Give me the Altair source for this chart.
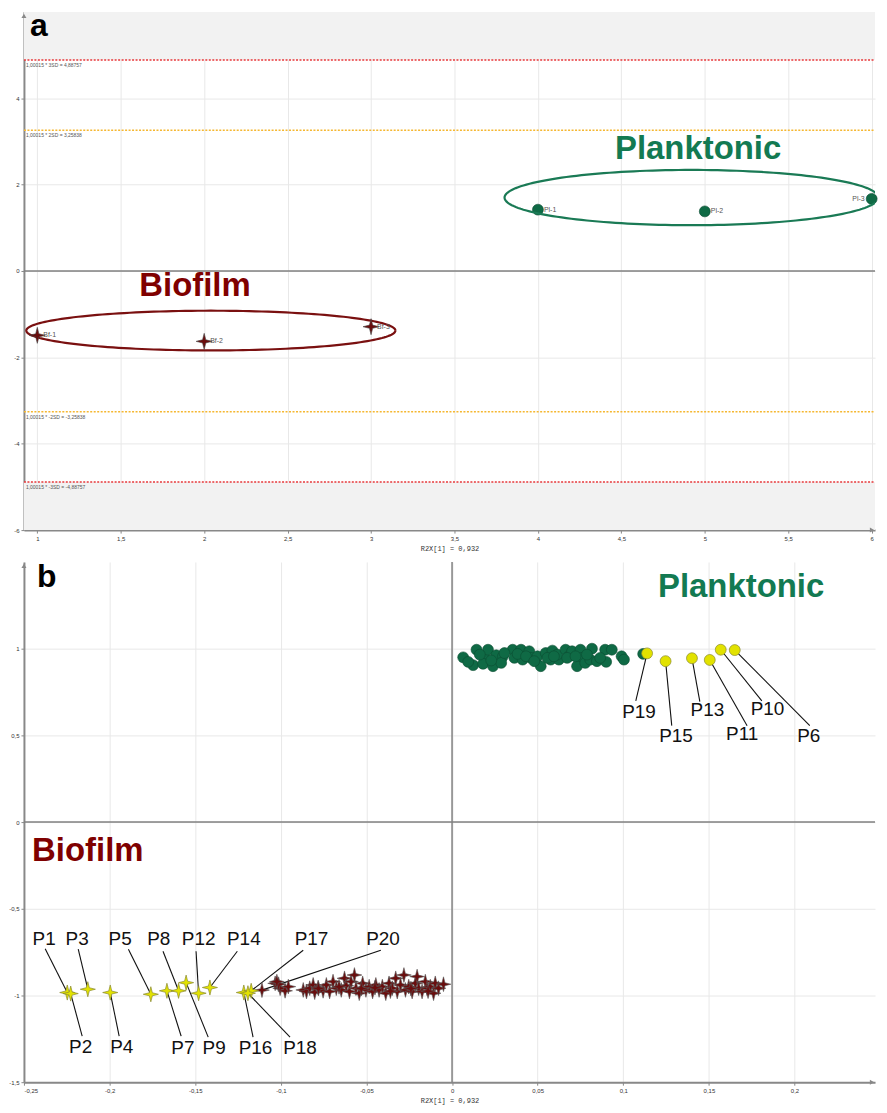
import altair as alt
import numpy as np
import pandas as pd

# ---------------- Panel a ----------------
a_names = ["Pl-1", "Pl-2", "Pl-3", "Bf-1", "Bf-2", "Bf-3"]
a_x = [4, 5, 6, 1, 2, 3]
a_y = [1.42, 1.38, 1.67, -1.49, -1.63, -1.29]
a_group = ["Planktonic", "Planktonic", "Planktonic", "Biofilm", "Biofilm", "Biofilm"]

sd_values = [4.88757, 3.25838, -3.25838, -4.88757]
sd_labels = ["1,00015 * 3SD = 4,88757", "1,00015 * 2SD = 3,25838",
             "1,00015 * -2SD = -3,25838", "1,00015 * -3SD = -4,88757"]
sd_colors = ["#e8393b", "#f5b731", "#f5b731", "#e8393b"]
shade_lo = [4.88757, -6]
shade_hi = [6, -4.88757]

a_x_ticks = [1, 1.5, 2, 2.5, 3, 3.5, 4, 4.5, 5, 5.5, 6]
a_y_ticks = [-6, -4, -2, 0, 2, 4]

ell_a_group = ["Planktonic", "Biofilm"]
ell_a_color = ["#1a7a55", "#7a1010"]
ell_a_cx = [4.92, 2.04]
ell_a_cy = [1.70, -1.38]
ell_a_rx = [1.12, 1.106]
ell_a_ry = [0.64, 0.46]

grp_text = ["Planktonic", "Biofilm"]
grp_color = ["#137a52", "#7f0000"]
grp_a_x = [4.96, 1.945]
grp_a_y = [2.83, -0.35]

# ---------------- Panel b ----------------
b_pl_x = [0.0065, 0.0123, 0.0143, 0.0191, 0.0210, 0.0181, 0.0239, 0.0258, 0.0297, 0.0287,
          0.0354, 0.0364, 0.0403, 0.0412, 0.0451, 0.0460, 0.0499, 0.0518, 0.0547, 0.0586,
          0.0576, 0.0624, 0.0615, 0.0663, 0.0682, 0.0701, 0.0750, 0.0759, 0.0730, 0.0778,
          0.0817, 0.0807, 0.0846, 0.0894, 0.0900, 0.0933, 0.0990, 0.1004, 0.0094, 0.0162,
          0.0229, 0.0306, 0.0383, 0.0432, 0.0480, 0.0557, 0.0595, 0.0672, 0.0721, 0.0788,
          0.0865, 0.1116]
b_pl_y = [0.950, 0.905, 0.994, 0.947, 0.994, 0.913, 0.899, 0.962, 0.956, 0.918,
          0.994, 0.947, 0.994, 0.937, 0.985, 0.947, 0.956, 0.899, 0.975, 0.989,
          0.937, 0.937, 0.966, 0.994, 0.956, 0.985, 0.994, 0.947, 0.899, 0.918,
          1.000, 0.937, 0.928, 0.994, 0.924, 0.994, 0.956, 0.937, 0.924, 0.966,
          0.932, 0.975, 0.970, 0.956, 0.928, 0.947, 0.956, 0.947, 0.956, 0.966,
          0.947, 0.970]

b_bf_x = [-0.1033, -0.1004, -0.1013, -0.0975, -0.0956, -0.1023, -0.0869, -0.0850, -0.0831, -0.0811,
          -0.0802, -0.0782, -0.0753, -0.0734, -0.0715, -0.0695, -0.0676, -0.0647, -0.0628, -0.0618,
          -0.0599, -0.0590, -0.0570, -0.0561, -0.0542, -0.0522, -0.0503, -0.0484, -0.0464, -0.0445,
          -0.0426, -0.0407, -0.0387, -0.0368, -0.0349, -0.0329, -0.0320, -0.0301, -0.0281, -0.0272,
          -0.0253, -0.0233, -0.0214, -0.0204, -0.0195, -0.0175, -0.0156, -0.0146, -0.0127, -0.0108,
          -0.0098, -0.0079, -0.0050, -0.0780, -0.0660, -0.0450, -0.0360, -0.0240, -0.0140, -0.0530]
b_bf_y = [-0.930, -0.958, -0.935, -0.973, -0.949, -0.920, -0.968, -0.977, -0.958, -0.939,
          -0.981, -0.954, -0.973, -0.939, -0.977, -0.920, -0.958, -0.968, -0.901, -0.943,
          -0.977, -0.920, -0.882, -0.958, -0.987, -0.930, -0.968, -0.949, -0.977, -0.939,
          -0.968, -0.949, -0.987, -0.930, -0.958, -0.901, -0.977, -0.939, -0.882, -0.968,
          -0.949, -0.977, -0.930, -0.891, -0.958, -0.977, -0.920, -0.958, -0.949, -0.987,
          -0.930, -0.958, -0.935, -0.960, -0.950, -0.955, -0.975, -0.960, -0.975, -0.960]

p_names = ["P1", "P2", "P3", "P4", "P5", "P7", "P8", "P9", "P12", "P14", "P16", "P17", "P18", "P20",
           "P19", "P15", "P13", "P11", "P10", "P6"]
p_x = [-0.2247, -0.2227, -0.2127, -0.1996, -0.1759, -0.1665, -0.1597, -0.1553, -0.1480, -0.1414,
       -0.1216, -0.1173, -0.1192, -0.1110, 0.1139, 0.1247, 0.1401, 0.1505, 0.1569, 0.1651]
p_y = [-0.983, -0.989, -0.964, -0.983, -0.993, -0.973, -0.973, -0.926, -0.987, -0.954,
       -0.983, -0.973, -0.987, -0.969, 0.973, 0.928, 0.945, 0.935, 0.994, 0.992]
p_line_x = [-0.2376, -0.2160, -0.2183, -0.1944, -0.1890, -0.1582, -0.1688, -0.1424, -0.1495, -0.1254,
            -0.1162, -0.0869, -0.0946, -0.0416, 0.1073, 0.1283, 0.1447, 0.1723, 0.1809, 0.2089]
p_line_y = [-0.730, -1.234, -0.733, -1.234, -0.733, -1.234, -0.745, -1.240, -0.745, -0.745,
            -1.240, -0.739, -1.240, -0.739, 0.699, 0.556, 0.695, 0.556, 0.699, 0.556]
p_text_x = [-0.2382, -0.2169, -0.2189, -0.1929, -0.1938, -0.1572, -0.1713, -0.1389, -0.1480, -0.1216,
            -0.1148, -0.0821, -0.0888, -0.0403, 0.1092, 0.1308, 0.1491, 0.1694, 0.1842, 0.2083]
p_text_y = [-0.672, -1.297, -0.672, -1.297, -0.672, -1.301, -0.676, -1.301, -0.676, -0.676,
            -1.301, -0.676, -1.301, -0.676, 0.632, 0.499, 0.646, 0.505, 0.651, 0.499]
p_kind = ["bf_y"] * 13 + ["bf_m"] + ["pl_y"] * 6

b_x_ticks = [-0.25, -0.2, -0.15, -0.1, -0.05, 0, 0.05, 0.1, 0.15, 0.2]
b_y_ticks = [-1.5, -1, -0.5, 0, 0.5, 1]

grp_b_x = [0.1688, -0.2127]
grp_b_y = [1.356, -0.166]

# ---------------- style ----------------
W = 854
HA = 520
HB = 522
GREEN = "#0f6a45"
MAROON = "#6a0d0d"
YELLOW = "#e2e200"
STAR = "M0,-1L0.2,-0.2L1,0L0.2,0.2L0,1L-0.2,0.2L-1,0L-0.2,-0.2Z"
LABEL_EXPR = "replace(toString(datum.value), '.', ',')"
FONT = "Liberation Sans"
XTITLE = "R2X[1] = 0,932"


def ellipse_df(groups, colors, cx, cy, rx, ry):
    t = np.linspace(0, 2 * np.pi, 181)
    rows = []
    for g, col, a, b, c, d in zip(groups, colors, cx, cy, rx, ry):
        for i, tt in enumerate(t):
            rows.append({"g": g, "c": col, "i": i,
                         "x": a + c * np.cos(tt), "y": b + d * np.sin(tt)})
    return pd.DataFrame(rows)


# ================= Panel a =================
xa = alt.Scale(domain=[0.92, 6.02], nice=False, zero=False)
ya = alt.Scale(domain=[-6, 6], nice=False, zero=False)
AXA = alt.Axis(values=a_x_ticks, labelExpr=LABEL_EXPR, title=XTITLE)
AYA = alt.Axis(values=a_y_ticks, labelExpr=LABEL_EXPR, title=None)


def XA(f):
    return alt.X(f, scale=xa, axis=AXA, title=XTITLE)


def YA(f):
    return alt.Y(f, scale=ya, axis=AYA, title=None)


df_a = pd.DataFrame({"name": a_names, "x": a_x, "y": a_y, "g": a_group})
df_sd = pd.DataFrame({"v": sd_values, "lab": sd_labels, "c": sd_colors})
df_shade = pd.DataFrame({"lo": shade_lo, "hi": shade_hi})
df_ell_a = ellipse_df(ell_a_group, ell_a_color, ell_a_cx, ell_a_cy, ell_a_rx, ell_a_ry)
df_grp_a = pd.DataFrame({"t": grp_text, "c": grp_color, "x": grp_a_x, "y": grp_a_y})
df_zero = pd.DataFrame({"z": [0]})
df_one = pd.DataFrame({"k": [0]})

shade_a = alt.Chart(df_shade).mark_rect(color="#f2f2f2").encode(
    x=alt.value(0), x2=alt.value(W), y=YA("lo:Q"), y2="hi:Q")

zero_a = alt.Chart(df_zero).mark_rule(color="#808080", strokeWidth=1.5).encode(
    x=alt.value(0), x2=alt.value(W), y=YA("z:Q"))

sd_rules = alt.Chart(df_sd).mark_rule(strokeDash=[2, 1.5], strokeWidth=1.5).encode(
    x=alt.value(0), x2=alt.value(W), y=YA("v:Q"),
    color=alt.Color("c:N", scale=None, legend=None))

sd_text = alt.Chart(df_sd).mark_text(align="left", baseline="top", fontSize=5, dx=2, dy=3,
                                     color="#555", font=FONT).encode(
    x=alt.value(0), y=YA("v:Q"), text="lab:N")

ell_a = alt.Chart(df_ell_a).mark_line(strokeWidth=2.2, clip=True).encode(
    x=XA("x:Q"), y=YA("y:Q"), detail="g:N", order="i:Q",
    color=alt.Color("c:N", scale=None, legend=None))

pts_a_pl = alt.Chart(df_a).transform_filter(alt.datum.g == "Planktonic").mark_point(
    shape="circle", filled=True, size=120, fill=GREEN, stroke="#0a4a30", strokeWidth=0.6,
    opacity=1).encode(x=XA("x:Q"), y=YA("y:Q"))

pts_a_bf = alt.Chart(df_a).transform_filter(alt.datum.g == "Biofilm").mark_point(
    shape=STAR, filled=True, size=260, fill=MAROON, stroke="#444", strokeWidth=0.6,
    opacity=1).encode(x=XA("x:Q"), y=YA("y:Q"))

lab_a_r = alt.Chart(df_a).transform_filter(alt.datum.name != "Pl-3").mark_text(
    align="left", baseline="middle", dx=6, fontSize=7, color="#555", font=FONT).encode(
    x=XA("x:Q"), y=YA("y:Q"), text="name:N")

lab_a_l = alt.Chart(df_a).transform_filter(alt.datum.name == "Pl-3").mark_text(
    align="right", baseline="middle", dx=-7, fontSize=7, color="#555", font=FONT).encode(
    x=XA("x:Q"), y=YA("y:Q"), text="name:N")

grp_a = alt.Chart(df_grp_a).mark_text(fontSize=33, fontWeight="bold", font=FONT,
                                      baseline="middle").encode(
    x=XA("x:Q"), y=YA("y:Q"), text="t:N",
    color=alt.Color("c:N", scale=None, legend=None))

letter_a = alt.Chart(df_one).mark_text(text="a", fontSize=32, fontWeight="bold", font=FONT,
                                       align="left", baseline="alphabetic", color="black").encode(
    x=alt.value(6), y=alt.value(24))

arrow_a_y = alt.Chart(df_one).mark_point(shape="triangle-up", filled=True, size=25,
                                         color="#888", opacity=1).encode(
    x=alt.value(0), y=alt.value(4))
arrow_a_x = alt.Chart(df_one).mark_point(shape="triangle-right", filled=True, size=25,
                                         color="#888", opacity=1).encode(
    x=alt.value(W - 3), y=alt.value(HA))

panel_a = alt.layer(pts_a_pl, shade_a, zero_a, sd_rules, sd_text, ell_a, pts_a_bf,
                    lab_a_r, lab_a_l, grp_a, letter_a, arrow_a_y, arrow_a_x
                    ).properties(width=W, height=HA)

# ================= Panel b =================
xb = alt.Scale(domain=[-0.25, 0.247], nice=False, zero=False)
yb = alt.Scale(domain=[-1.5, 1.5], nice=False, zero=False)
AXB = alt.Axis(values=b_x_ticks, labelExpr=LABEL_EXPR, title=XTITLE)
AYB = alt.Axis(values=b_y_ticks, labelExpr=LABEL_EXPR, title=None)


def XB(f):
    return alt.X(f, scale=xb, axis=AXB, title=XTITLE)


def YB(f):
    return alt.Y(f, scale=yb, axis=AYB, title=None)


df_pl = pd.DataFrame({"x": b_pl_x, "y": b_pl_y})
df_bf = pd.DataFrame({"x": b_bf_x, "y": b_bf_y})
df_p = pd.DataFrame({"name": p_names, "x": p_x, "y": p_y, "lx": p_line_x, "ly": p_line_y,
                     "tx": p_text_x, "ty": p_text_y, "k": p_kind})
df_grp_b = pd.DataFrame({"t": grp_text, "c": grp_color, "x": grp_b_x, "y": grp_b_y})

hzero_b = alt.Chart(df_zero).mark_rule(color="#808080", strokeWidth=1.5).encode(
    x=alt.value(0), x2=alt.value(W), y=YB("z:Q"))
vzero_b = alt.Chart(df_zero).mark_rule(color="#808080", strokeWidth=1.5).encode(
    y=alt.value(0), y2=alt.value(HB), x=XB("z:Q"))

lines_b = alt.Chart(df_p).mark_rule(color="#111", strokeWidth=1.1).encode(
    x=XB("x:Q"), y=YB("y:Q"), x2="lx:Q", y2="ly:Q")

pl_b = alt.Chart(df_pl).mark_point(shape="circle", filled=True, size=120, fill=GREEN,
                                   stroke="#0b4d33", strokeWidth=0.6, opacity=1).encode(
    x=XB("x:Q"), y=YB("y:Q"))

bf_b = alt.Chart(df_bf).mark_point(shape=STAR, filled=True, size=220, fill=MAROON,
                                   stroke="#555", strokeWidth=0.6, opacity=1).encode(
    x=XB("x:Q"), y=YB("y:Q"))

p_bf_m = alt.Chart(df_p).transform_filter(alt.datum.k == "bf_m").mark_point(
    shape=STAR, filled=True, size=220, fill=MAROON, stroke="#555", strokeWidth=0.6,
    opacity=1).encode(x=XB("x:Q"), y=YB("y:Q"))

p_bf_y = alt.Chart(df_p).transform_filter(alt.datum.k == "bf_y").mark_point(
    shape=STAR, filled=True, size=230, fill=YELLOW, stroke="#8a8a30", strokeWidth=0.7,
    opacity=1).encode(x=XB("x:Q"), y=YB("y:Q"))

p_pl_y = alt.Chart(df_p).transform_filter(alt.datum.k == "pl_y").mark_point(
    shape="circle", filled=True, size=120, fill=YELLOW, stroke="#8a8a30", strokeWidth=0.7,
    opacity=1).encode(x=XB("x:Q"), y=YB("y:Q"))

p_text = alt.Chart(df_p).mark_text(fontSize=19, font=FONT, color="#111",
                                   baseline="middle", align="center").encode(
    x=XB("tx:Q"), y=YB("ty:Q"), text="name:N")

grp_b = alt.Chart(df_grp_b).mark_text(fontSize=33, fontWeight="bold", font=FONT,
                                      baseline="middle").encode(
    x=XB("x:Q"), y=YB("y:Q"), text="t:N",
    color=alt.Color("c:N", scale=None, legend=None))

letter_b = alt.Chart(df_one).mark_text(text="b", fontSize=32, fontWeight="bold", font=FONT,
                                       align="left", baseline="alphabetic", color="black").encode(
    x=alt.value(13), y=alt.value(25))

arrow_b_y = alt.Chart(df_one).mark_point(shape="triangle-up", filled=True, size=25,
                                         color="#888", opacity=1).encode(
    x=alt.value(0), y=alt.value(4))
arrow_b_x = alt.Chart(df_one).mark_point(shape="triangle-right", filled=True, size=25,
                                         color="#888", opacity=1).encode(
    x=alt.value(W - 3), y=alt.value(HB))

panel_b = alt.layer(pl_b, hzero_b, vzero_b, lines_b, bf_b, p_bf_m, p_bf_y, p_pl_y, p_text,
                    grp_b, letter_b, arrow_b_y, arrow_b_x).properties(width=W, height=HB)

chart = alt.vconcat(panel_a, panel_b, spacing=10).properties(
    padding={"left": 0, "top": 0, "right": 0, "bottom": 0}
).configure_view(stroke=None).configure_axis(
    domainColor="#888", domainWidth=2, tickColor="#888", tickSize=3,
    labelFontSize=6, labelColor="#333", labelFont=FONT, labelPadding=2,
    gridColor="#e8e8e8", gridWidth=1,
    titleFont="Liberation Mono", titleFontSize=7, titleFontWeight="normal",
    titleColor="#333", titlePadding=3
).configure_axisY(minExtent=14, maxExtent=14)

chart.save("out.html", embed_options={"renderer": "svg", "actions": False})
